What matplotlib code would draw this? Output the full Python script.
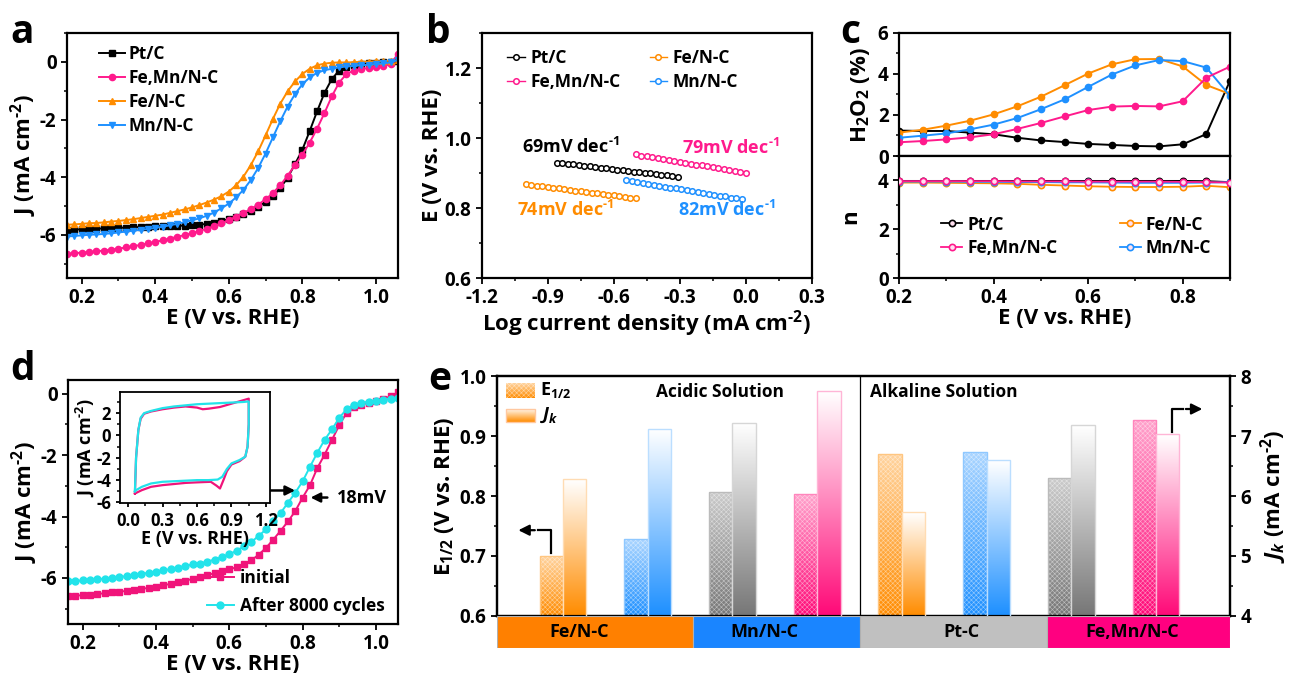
import numpy as np
import matplotlib
matplotlib.use('Agg')
import matplotlib.pyplot as plt
import matplotlib.colors as mcolors
from matplotlib.ticker import MultipleLocator

plt.rcParams['font.family'] = ['Open Sans', 'DejaVu Sans']
plt.rcParams['font.weight'] = 'bold'
plt.rcParams['axes.labelweight'] = 'bold'
plt.rcParams['axes.linewidth'] = 1.6
plt.rcParams['axes.unicode_minus'] = False
plt.rcParams['mathtext.fontset'] = 'custom'
plt.rcParams['mathtext.rm'] = 'Open Sans:bold'
plt.rcParams['mathtext.bf'] = 'Open Sans:bold'
plt.rcParams['mathtext.it'] = 'Open Sans:italic:bold'
plt.rcParams['mathtext.default'] = 'regular'
plt.rcParams['hatch.linewidth'] = 0.4
for a in ['xtick', 'ytick']:
    plt.rcParams[a + '.major.width'] = 1.3
    plt.rcParams[a + '.minor.width'] = 1.1
    plt.rcParams[a + '.major.size'] = 4
    plt.rcParams[a + '.minor.size'] = 2.5
    plt.rcParams[a + '.labelsize'] = 13.5

BLACK = '#000000'
PINK = '#FF1A8C'
ORANGE = '#FF8C00'
BLUE = '#1E90FF'
CYAN = '#22E3EA'
SUP1 = '$^{\\text{-}1}$'
SUP2 = '$^{\\text{-}2}$'

# ---------------- data ----------------
# a: LSV curves, E (V vs RHE) and J (mA cm-2)
E_lsv = [0.16, 0.18, 0.20, 0.22, 0.24, 0.26, 0.28, 0.30, 0.32, 0.34, 0.36, 0.38,
         0.40, 0.42, 0.44, 0.46, 0.48, 0.50, 0.52, 0.54, 0.56, 0.58, 0.60, 0.62,
         0.64, 0.66, 0.68, 0.70, 0.72, 0.74, 0.76, 0.78, 0.80, 0.82, 0.84, 0.86,
         0.88, 0.90, 0.92, 0.94, 0.96, 0.98, 1.00, 1.02, 1.04, 1.06]
J_ptc = [-5.83, -5.82, -5.81, -5.80, -5.79, -5.78, -5.77, -5.76, -5.75, -5.74, -5.73, -5.72,
         -5.71, -5.70, -5.69, -5.69, -5.68, -5.67, -5.65, -5.62, -5.58, -5.52, -5.46, -5.38,
         -5.28, -5.16, -5.02, -4.86, -4.66, -4.38, -4.02, -3.55, -3.05, -2.40, -1.72, -1.08,
         -0.60, -0.30, -0.18, -0.12, -0.08, -0.05, -0.03, -0.01, 0.01, 0.02]
J_femn = [-6.66, -6.64, -6.62, -6.60, -6.57, -6.55, -6.52, -6.48, -6.44, -6.40, -6.35, -6.30,
          -6.25, -6.19, -6.13, -6.07, -6.01, -5.94, -5.87, -5.79, -5.70, -5.60, -5.49, -5.37,
          -5.24, -5.11, -4.95, -4.77, -4.55, -4.28, -3.95, -3.58, -3.22, -2.80, -2.32, -1.78,
          -1.20, -0.72, -0.42, -0.30, -0.25, -0.21, -0.18, -0.14, -0.08, 0.28]
J_fe = [-5.65, -5.64, -5.62, -5.60, -5.59, -5.57, -5.54, -5.52, -5.49, -5.46, -5.42, -5.38,
        -5.34, -5.30, -5.24, -5.18, -5.12, -5.05, -4.97, -4.88, -4.78, -4.66, -4.50, -4.28,
        -3.98, -3.58, -3.10, -2.55, -1.98, -1.45, -1.02, -0.68, -0.42, -0.24, -0.12, -0.06,
        -0.03, -0.02, -0.02, -0.01, 0.00, 0.01, 0.02, 0.03, 0.04, 0.05]
J_mn = [-6.06, -6.04, -6.02, -6.00, -5.99, -5.97, -5.95, -5.92, -5.89, -5.86, -5.83, -5.80,
        -5.76, -5.72, -5.67, -5.62, -5.56, -5.50, -5.43, -5.34, -5.23, -5.08, -4.92, -4.70,
        -4.44, -4.10, -3.68, -3.18, -2.62, -2.06, -1.55, -1.12, -0.78, -0.54, -0.38, -0.29,
        -0.24, -0.19, -0.16, -0.14, -0.12, -0.10, -0.08, -0.05, -0.02, 0.07]

# b: Tafel plots
logj_ptc = [-0.86, -0.835, -0.81, -0.785, -0.76, -0.735, -0.71, -0.685, -0.66, -0.635, -0.61, -0.585,
            -0.56, -0.535, -0.51, -0.485, -0.46, -0.435, -0.41, -0.385, -0.36, -0.335, -0.31]
Et_ptc = [0.930, 0.928, 0.926, 0.925, 0.923, 0.921, 0.919, 0.917, 0.915, 0.914, 0.912, 0.910,
          0.908, 0.906, 0.904, 0.903, 0.901, 0.899, 0.897, 0.895, 0.894, 0.892, 0.890]
logj_femn = [-0.50, -0.475, -0.45, -0.425, -0.40, -0.375, -0.35, -0.325, -0.30, -0.275, -0.25,
             -0.225, -0.20, -0.175, -0.15, -0.125, -0.10, -0.075, -0.05, -0.025, 0.0]
Et_femn = [0.953, 0.950, 0.948, 0.945, 0.943, 0.940, 0.937, 0.935, 0.932, 0.930, 0.927,
           0.924, 0.922, 0.919, 0.917, 0.914, 0.911, 0.909, 0.906, 0.904, 0.901]
logj_fe = [-1.00, -0.975, -0.95, -0.925, -0.90, -0.875, -0.85, -0.825, -0.80, -0.775, -0.75,
           -0.725, -0.70, -0.675, -0.65, -0.625, -0.60, -0.575, -0.55, -0.525, -0.50]
Et_fe = [0.868, 0.866, 0.864, 0.862, 0.860, 0.858, 0.856, 0.854, 0.852, 0.850, 0.848,
         0.846, 0.844, 0.842, 0.840, 0.838, 0.836, 0.834, 0.832, 0.830, 0.828]
logj_mn = [-0.545, -0.52, -0.495, -0.47, -0.445, -0.42, -0.395, -0.37, -0.345, -0.32, -0.295,
           -0.27, -0.245, -0.22, -0.195, -0.17, -0.145, -0.12, -0.095, -0.07, -0.045, -0.02]
Et_mn = [0.879, 0.876, 0.874, 0.871, 0.869, 0.866, 0.864, 0.861, 0.858, 0.856, 0.853,
         0.851, 0.848, 0.846, 0.843, 0.840, 0.838, 0.835, 0.833, 0.830, 0.828, 0.825]

# c: RRDE, H2O2 yield and electron transfer number
E_rrde = [0.20, 0.25, 0.30, 0.35, 0.40, 0.45, 0.50, 0.55, 0.60, 0.65, 0.70, 0.75, 0.80, 0.85, 0.90]
h2o2_ptc = [1.24, 1.22, 1.22, 1.14, 1.06, 0.89, 0.76, 0.68, 0.59, 0.54, 0.49, 0.47, 0.57, 1.07, 3.67]
h2o2_fe = [1.14, 1.28, 1.48, 1.72, 2.03, 2.42, 2.89, 3.45, 4.02, 4.47, 4.72, 4.73, 4.37, 3.46, 3.02]
h2o2_mn = [0.89, 0.99, 1.10, 1.30, 1.53, 1.85, 2.28, 2.76, 3.37, 3.97, 4.42, 4.68, 4.63, 4.31, 2.93]
h2o2_femn = [0.67, 0.73, 0.81, 0.91, 1.06, 1.32, 1.61, 1.93, 2.24, 2.41, 2.44, 2.42, 2.67, 3.82, 4.36]
n_ptc = [3.98, 3.98, 3.98, 3.98, 3.98, 3.98, 3.98, 3.98, 3.98, 3.98, 3.98, 3.98, 3.98, 3.97, 3.93]
n_fe = [3.91, 3.91, 3.90, 3.89, 3.88, 3.86, 3.82, 3.79, 3.76, 3.74, 3.73, 3.73, 3.74, 3.78, 3.72]
n_mn = [3.95, 3.95, 3.95, 3.94, 3.94, 3.93, 3.93, 3.92, 3.92, 3.91, 3.90, 3.90, 3.90, 3.91, 3.93]
n_femn = [3.97, 3.97, 3.97, 3.97, 3.97, 3.96, 3.96, 3.96, 3.95, 3.95, 3.95, 3.95, 3.94, 3.93, 3.91]

# d: stability, before / after 8000 cycles
J_init = [-6.60, -6.58, -6.56, -6.54, -6.52, -6.50, -6.47, -6.45, -6.42, -6.39, -6.36, -6.32,
          -6.28, -6.24, -6.19, -6.14, -6.09, -6.03, -5.97, -5.91, -5.84, -5.77, -5.72, -5.65,
          -5.55, -5.43, -5.24, -5.02, -4.75, -4.46, -4.16, -3.82, -3.38, -2.98, -2.42, -1.98,
          -1.50, -1.02, -0.62, -0.42, -0.35, -0.29, -0.23, -0.17, -0.08, 0.05]
J_after = [-6.11, -6.10, -6.08, -6.06, -6.04, -6.02, -6.00, -5.97, -5.94, -5.91, -5.87, -5.83,
           -5.79, -5.75, -5.71, -5.66, -5.61, -5.56, -5.53, -5.47, -5.40, -5.32, -5.23, -5.11,
           -4.97, -4.83, -4.63, -4.42, -4.15, -3.88, -3.55, -3.22, -2.85, -2.38, -1.92, -1.50,
           -1.16, -0.78, -0.50, -0.36, -0.29, -0.26, -0.24, -0.20, -0.16, -0.14]
# d inset: CV loops
cv_E_after = [0.06, 0.07, 0.09, 0.11, 0.14, 0.20, 0.30, 0.40, 0.50, 0.60, 0.70, 0.80, 0.90, 1.00,
              1.05, 1.05, 1.04, 1.02, 0.97, 0.90, 0.86, 0.82, 0.78, 0.70, 0.60, 0.50, 0.40, 0.30,
              0.20, 0.12, 0.07, 0.06]
cv_J_after = [-5.0, -2.0, 0.5, 1.6, 2.0, 2.2, 2.45, 2.6, 2.7, 2.8, 2.85, 2.9, 2.95, 3.0,
              3.05, 1.0, -1.0, -1.9, -2.2, -2.5, -3.0, -3.7, -3.95, -4.0, -4.0, -4.05, -4.1, -4.15,
              -4.3, -4.6, -4.9, -5.0]
cv_E_init = [0.06, 0.07, 0.09, 0.11, 0.14, 0.20, 0.30, 0.40, 0.50, 0.60, 0.65, 0.70, 0.80, 0.90,
             1.00, 1.05, 1.05, 1.04, 1.02, 0.97, 0.90, 0.86, 0.83, 0.80, 0.77, 0.72, 0.60, 0.50,
             0.40, 0.30, 0.20, 0.12, 0.07, 0.06]
cv_J_init = [-5.2, -2.0, 0.5, 1.5, 1.95, 2.15, 2.35, 2.5, 2.6, 2.5, 2.35, 2.4, 2.55, 2.85,
             3.15, 3.3, 1.0, -1.0, -1.9, -2.3, -2.6, -3.2, -4.0, -4.75, -4.5, -4.15, -4.2, -4.25,
             -4.35, -4.45, -4.6, -4.9, -5.15, -5.2]

# e: half-wave potential and kinetic current, acidic (first 4) and alkaline (last 4)
cats_e = ['Fe/N-C', 'Mn/N-C', 'Pt/C', 'Fe,Mn/N-C', 'Fe/N-C', 'Mn/N-C', 'Pt/C', 'Fe,Mn/N-C']
e_half = [0.700, 0.728, 0.807, 0.803, 0.870, 0.873, 0.830, 0.927]
j_k = [6.28, 7.12, 7.22, 7.75, 5.73, 6.60, 7.18, 7.03]
bar_colors = [ORANGE, BLUE, '#777777', '#FF0A78'] * 2
band_labels = ['Fe/N-C', 'Mn/N-C', 'Pt-C', 'Fe,Mn/N-C']
band_colors = ['#FF8000', '#1A85FF', '#C0C0C0', '#FF0080']

# ---------------- figure ----------------
fig = plt.figure(figsize=(12.9, 6.73), dpi=100)


def style(ax, xmaj, xmin, ymaj, ymin):
    ax.xaxis.set_major_locator(MultipleLocator(xmaj))
    ax.xaxis.set_minor_locator(MultipleLocator(xmin))
    ax.yaxis.set_major_locator(MultipleLocator(ymaj))
    ax.yaxis.set_minor_locator(MultipleLocator(ymin))
    ax.tick_params(which='both', direction='out', top=False, right=False)
    for lab in ax.get_xticklabels() + ax.get_yticklabels():
        lab.set_fontweight('bold')


LBL = 16
LEG = 12.5

# ----- a -----
axa = fig.add_axes([0.0519, 0.5869, 0.2566, 0.364])
axa.plot(E_lsv, J_ptc, '-s', color=BLACK, ms=4, lw=1.4, label='Pt/C')
axa.plot(E_lsv, J_femn, '-o', color=PINK, ms=4.5, lw=1.4, label='Fe,Mn/N-C')
axa.plot(E_lsv, J_fe, '-^', color=ORANGE, ms=4.5, lw=1.4, label='Fe/N-C')
axa.plot(E_lsv, J_mn, '-v', color=BLUE, ms=4.5, lw=1.4, label='Mn/N-C')
axa.set_xlim(0.16, 1.06)
axa.set_ylim(-7.5, 1.0)
style(axa, 0.2, 0.1, 2, 1)
axa.set_xlabel('E (V vs. RHE)', fontsize=LBL, labelpad=0)
axa.set_ylabel('J (mA cm' + SUP2 + ')', fontsize=LBL, labelpad=1)
axa.legend(loc='upper left', frameon=False, fontsize=LEG, handlelength=1.5, handletextpad=0.2,
           labelspacing=0.35, borderaxespad=0.3, numpoints=1, bbox_to_anchor=(0.06, 1.0))

# ----- b -----
axb = fig.add_axes([0.3736, 0.5869, 0.2558, 0.364])
tkw = dict(ms=4, mfc='white', mew=1.1, lw=1.0)
axb.plot(logj_ptc, Et_ptc, '-o', color=BLACK, label='Pt/C', **tkw)
axb.plot(logj_femn, Et_femn, '-o', color=PINK, label='Fe,Mn/N-C', **tkw)
axb.plot(logj_fe, Et_fe, '-o', color=ORANGE, label='Fe/N-C', **tkw)
axb.plot(logj_mn, Et_mn, '-o', color=BLUE, label='Mn/N-C', **tkw)
axb.set_xlim(-1.2, 0.3)
axb.set_ylim(0.6, 1.3)
style(axb, 0.3, 0.15, 0.2, 0.1)
axb.set_xlabel('Log current density (mA cm' + SUP2 + ')', fontsize=LBL, labelpad=0)
axb.set_ylabel('E (V vs. RHE)', fontsize=LBL, labelpad=1)
axb.legend(loc='upper left', ncol=2, frameon=False, fontsize=LEG, handlelength=1.0,
           handletextpad=0.3, columnspacing=1.7, labelspacing=0.35, numpoints=1,
           bbox_to_anchor=(0.03, 1.0))
axb.text(-1.02, 0.975, '69mV dec' + SUP1, color=BLACK, fontsize=13, va='center')
axb.text(-0.29, 0.972, '79mV dec' + SUP1, color=PINK, fontsize=13, va='center')
axb.text(-1.04, 0.795, '74mV dec' + SUP1, color=ORANGE, fontsize=13, va='center')
axb.text(-0.31, 0.795, '82mV dec' + SUP1, color=BLUE, fontsize=13, va='center')

# ----- c -----
axc1 = fig.add_axes([0.6969, 0.7682, 0.2566, 0.1828])
axc2 = fig.add_axes([0.6969, 0.5869, 0.2566, 0.1813], sharex=axc1)
ckw = dict(ms=4.5, lw=1.4)
axc1.plot(E_rrde, h2o2_ptc, '-o', color=BLACK, **ckw)
axc1.plot(E_rrde, h2o2_fe, '-o', color=ORANGE, **ckw)
axc1.plot(E_rrde, h2o2_mn, '-o', color=BLUE, **ckw)
axc1.plot(E_rrde, h2o2_femn, '-o', color=PINK, **ckw)
nkw = dict(ms=4.5, mfc='#FFE0F0', mew=1.2, lw=1.3)
axc2.plot(E_rrde, n_ptc, '-o', color=BLACK, label='Pt/C', **nkw)
axc2.plot(E_rrde, n_femn, '-o', color=PINK, label='Fe,Mn/N-C', **nkw)
axc2.plot(E_rrde, n_fe, '-o', color=ORANGE, label='Fe/N-C', **nkw)
axc2.plot(E_rrde, n_mn, '-o', color=BLUE, label='Mn/N-C', **nkw)
axc2.lines[1].set_zorder(4)
axc1.set_xlim(0.2, 0.9)
axc1.set_ylim(0, 6)
axc2.set_ylim(0, 5)
style(axc1, 0.2, 0.1, 2, 1)
style(axc2, 0.2, 0.1, 2, 1)
axc1.tick_params(axis='x', which='both', labelbottom=False)
axc1.set_ylabel('H$_2$O$_2$ (%)', fontsize=LBL, labelpad=4)
axc2.set_ylabel('n', fontsize=LBL, labelpad=12)
axc2.set_xlabel('E (V vs. RHE)', fontsize=LBL, labelpad=0)
h, l = axc2.get_legend_handles_labels()
axc2.legend(h, l, loc='upper left', ncol=2, frameon=False, fontsize=LEG, handlelength=1.2,
            handletextpad=0.3, columnspacing=3.6, labelspacing=0.3, numpoints=1,
            bbox_to_anchor=(0.08, 0.64))

# ----- d -----
axd = fig.add_axes([0.0527, 0.0728, 0.2558, 0.3626])
axd.plot(E_lsv, J_init, '-s', color='#F0147A', ms=4, lw=1.4, label='initial')
axd.plot(E_lsv, J_after, '-o', color=CYAN, ms=5, lw=1.4, label='After 8000 cycles')
axd.set_xlim(0.16, 1.06)
axd.set_ylim(-7.5, 0.45)
style(axd, 0.2, 0.1, 2, 1)
axd.set_xlabel('E (V vs. RHE)', fontsize=LBL, labelpad=0)
axd.set_ylabel('J (mA cm' + SUP2 + ')', fontsize=LBL, labelpad=1)
axd.legend(loc='lower right', frameon=False, fontsize=LEG, handlelength=1.6, handletextpad=0.3,
           labelspacing=0.6, borderaxespad=0.1, numpoints=1, bbox_to_anchor=(0.985, 0.0))
axd.annotate('', xy=(0.787, -3.15), xytext=(0.70, -3.15),
             arrowprops=dict(arrowstyle='-|>', color='k', lw=1.8, mutation_scale=14))
axd.annotate('', xy=(0.814, -3.38), xytext=(0.875, -3.38),
             arrowprops=dict(arrowstyle='-|>', color='k', lw=1.8, mutation_scale=14))
axd.text(0.893, -3.38, '18mV', fontsize=13, va='center')

axi = fig.add_axes([0.093, 0.2526, 0.1163, 0.165])
axi.plot(cv_E_init, cv_J_init, color='#F0147A', lw=1.6)
axi.plot(cv_E_after, cv_J_after, color=CYAN, lw=1.6)
axi.set_xlim(-0.07, 1.235)
axi.set_ylim(-6.05, 3.9)
style(axi, 0.3, 0.15, 2, 1)
axi.tick_params(labelsize=12, length=3)
for s in axi.spines.values():
    s.set_linewidth(1.3)
axi.set_xlabel('E (V vs. RHE)', fontsize=13, labelpad=0)
axi.set_ylabel('J (mA cm' + SUP2 + ')', fontsize=13, labelpad=0)

# ----- e -----
axe = fig.add_axes([0.3853, 0.0847, 0.5682, 0.3566])
axe2 = axe.twinx()
pos = np.arange(len(cats_e))
w = 0.277


def gradient(ax, patch, color, top_mix, ybot):
    c = np.array(mcolors.to_rgb(color))
    top = c * (1 - top_mix) + top_mix
    t = np.linspace(0, 1, 80)[:, None, None]
    img = top * (1 - t) + c * t
    x0 = patch.get_x()
    x1 = x0 + patch.get_width()
    im = ax.imshow(img, extent=[x0, x1, ybot, patch.get_y() + patch.get_height()],
                   aspect='auto', zorder=2, interpolation='bilinear')
    im.set_clip_path(patch)


e_bars = axe.bar(pos - w / 2, e_half, width=w, facecolor='none', edgecolor='none', zorder=2)
for b, col in zip(e_bars, bar_colors):
    gradient(axe, b, col, 0.62, 0.6)
    lite = np.array(mcolors.to_rgb(col)) * 0.5 + 0.5
    axe.bar(b.get_x() + w / 2, b.get_height(), width=w, facecolor='none',
            edgecolor=(1, 1, 1, 0.5), hatch='xxxxxxx', lw=0, zorder=3)
    axe.bar(b.get_x() + w / 2, b.get_height(), width=w, facecolor='none',
            edgecolor=lite, lw=1.0, zorder=4)

j_bars = axe2.bar(pos + w / 2, j_k, width=w, facecolor='none', edgecolor='none', zorder=2)
for b, col in zip(j_bars, bar_colors):
    gradient(axe2, b, col, 1.0, 4.0)
    lite = np.array(mcolors.to_rgb(col)) * 0.3 + 0.7
    axe2.bar(b.get_x() + w / 2, b.get_height(), width=w, facecolor='none',
             edgecolor=lite, lw=1.0, zorder=4)

axe.axvline(3.5, color='k', lw=0.9, zorder=1)
axe.set_xticks([])
axe.yaxis.set_major_locator(MultipleLocator(0.1))
axe.yaxis.set_minor_locator(MultipleLocator(0.05))
axe2.yaxis.set_major_locator(MultipleLocator(1))
axe2.yaxis.set_minor_locator(MultipleLocator(0.5))
axe.tick_params(which='both', direction='out')
axe2.tick_params(which='both', direction='out')
axe.set_ylabel('E$_{1/2}$ (V vs. RHE)', fontsize=LBL, labelpad=3)
axe2.set_ylabel('$\\mathit{J_k}$ (mA cm' + SUP2 + ')', fontsize=LBL, labelpad=5)

axe.text(1.85, 0.973, 'Acidic Solution', fontsize=12.5, ha='center', va='center')
axe.text(4.5, 0.973, 'Alkaline Solution', fontsize=12.5, ha='center', va='center')

# arrows pointing to the axes
axe.plot([-0.14, -0.14, -0.30], [0.705, 0.743, 0.743], color='k', lw=1.6)
axe.annotate('', xy=(-0.56, 0.743), xytext=(-0.30, 0.743),
             arrowprops=dict(arrowstyle='-|>', color='k', lw=1.6, mutation_scale=16))
axe.plot([7.19, 7.19, 7.32], [0.907, 0.945, 0.945], color='k', lw=1.6)
axe.annotate('', xy=(7.58, 0.945), xytext=(7.32, 0.945),
             arrowprops=dict(arrowstyle='-|>', color='k', lw=1.6, mutation_scale=16))

# legend patches
lg1 = axe.bar(-0.50, 0.025, width=0.34, bottom=0.963, facecolor='none', edgecolor='none')[0]
gradient(axe, lg1, ORANGE, 0.62, 0.963)
axe.bar(-0.50, 0.025, width=0.34, bottom=0.963, facecolor='none', edgecolor=(1, 1, 1, 0.5),
        hatch='xxxxxxx', lw=0, zorder=3)
lg2 = axe.bar(-0.50, 0.022, width=0.34, bottom=0.923, facecolor='none', edgecolor='none')[0]
gradient(axe, lg2, ORANGE, 1.0, 0.923)
axe.bar(-0.50, 0.022, width=0.34, bottom=0.923, facecolor='none', edgecolor='#FFC8A0',
        lw=1.0, zorder=4)
axe.text(-0.27, 0.977, 'E$_{1/2}$', fontsize=13, va='center')
axe.text(-0.27, 0.935, '$\\mathit{J_k}$', fontsize=13, va='center')

axe.set_xlim(-0.779, 7.874)
axe.set_ylim(0.6, 1.0)
axe2.set_ylim(4, 8)

# category bands below panel e
axl = fig.add_axes([0.3853, 0.0371, 0.5682, 0.0476])
axl.set_xlim(-0.779, 7.874)
axl.set_ylim(0, 1)
axl.axis('off')
band_edges = [-0.779, 1.535, 3.5, 5.71, 7.874]
band_text_x = [0.19, 2.38, 4.7, 6.72]
for i in range(4):
    axl.axvspan(band_edges[i], band_edges[i + 1], color=band_colors[i], ec='#B0B0B0', lw=0.8)
    axl.text(band_text_x[i], 0.5, band_labels[i], fontsize=13, ha='center', va='center')

# panel letters
for x, y, s in [(0.008, 0.936, 'a'), (0.330, 0.936, 'b'), (0.651, 0.936, 'c'),
                (0.008, 0.435, 'd'), (0.332, 0.4205, 'e')]:
    fig.text(x, y, s, fontsize=28, fontweight='bold', va='baseline')

fig.savefig('out.png', dpi=100)
